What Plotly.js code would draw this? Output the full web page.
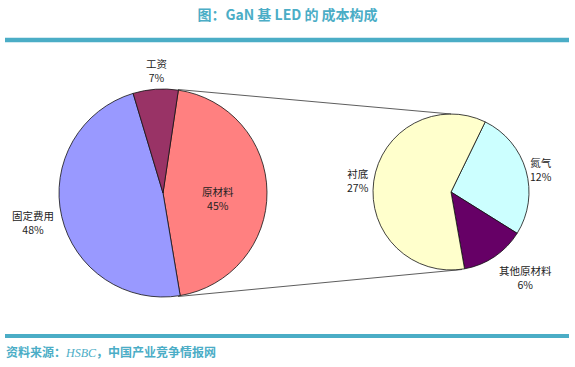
<!DOCTYPE html>
<html>
<head>
<meta charset="utf-8">
<script src="https://cdn.plot.ly/plotly-3.0.1.min.js"></script>
<style>html,body{margin:0;padding:0;background:#fff;}#chart{width:575px;height:367px;}</style>
</head>
<body>
<div id="chart"></div>
<script>
// ---- data ----
const mainLabels = ["原材料", "固定费用", "工资"];
const mainValues = [45, 48, 7];
const mainColors = ["#FF8080", "#9999FF", "#993366"];

const subLabels = ["氮气", "其他原材料", "衬底"];
const subValues = [12, 6, 27];
const subColors = ["#CCFFFF", "#660066", "#FFFFCC"];

const titleText = "图：GaN 基 LED 的 成本构成";
const sourceText = "资料来源：<i><span style='font-family:Liberation Serif;font-weight:normal'>HSBC</span></i>，中国产业竞争情报网";

// ---- layout helpers ----
const W = 575, H = 367;
const px = x => x / W;
const py = y => 1 - y / H;
const teal = "#4BADC6";

const mainLabelPos = [[218, 198], [33, 222], [156, 70]];
const subLabelPos = [[541, 169], [525, 277], [358, 180]];

const annotations = [];
mainLabels.forEach((l, i) => {
  annotations.push({
    x: px(mainLabelPos[i][0]), y: py(mainLabelPos[i][1]), xref: "paper", yref: "paper",
    text: l + "<br>" + mainValues[i] + "%", showarrow: false, xanchor: "center", yanchor: "middle",
    font: {family: "Noto Sans CJK SC, sans-serif", size: 10.5, color: "#222"}
  });
});
subLabels.forEach((l, i) => {
  annotations.push({
    x: px(subLabelPos[i][0]), y: py(subLabelPos[i][1]), xref: "paper", yref: "paper",
    text: l + "<br>" + subValues[i] + "%", showarrow: false, xanchor: "center", yanchor: "middle",
    font: {family: "Noto Sans CJK SC, sans-serif", size: 10.5, color: "#222"}
  });
});
annotations.push({
  x: px(4), y: py(351), xref: "paper", yref: "paper", xanchor: "left", yanchor: "middle",
  text: "<b>" + sourceText + "</b>", showarrow: false,
  font: {family: "Noto Sans CJK SC, sans-serif", size: 12, color: teal}
});

const data = [
  {
    type: "pie", labels: mainLabels, values: mainValues, sort: false, direction: "clockwise",
    rotation: 8.5, textinfo: "none", hoverinfo: "skip",
    marker: {colors: mainColors, line: {color: "#111", width: 0.8}},
    domain: {x: [px(59), px(267)], y: [py(297), py(89)]}
  },
  {
    type: "pie", labels: subLabels, values: subValues, sort: false, direction: "clockwise",
    rotation: 26, textinfo: "none", hoverinfo: "skip",
    marker: {colors: subColors, line: {color: "#111", width: 0.8}},
    domain: {x: [px(373), px(529)], y: [py(270), py(114)]}
  }
];

const layout = {
  width: W, height: H, margin: {l: 0, r: 0, t: 0, b: 0},
  paper_bgcolor: "#fff", plot_bgcolor: "#fff", showlegend: false,
  title: {text: "<b>" + titleText + "</b>", x: 0.5, xanchor: "center", y: py(15), yanchor: "middle",
          font: {family: "Noto Sans CJK SC, sans-serif", size: 14, color: teal}},
  shapes: [
    {type: "line", xref: "paper", yref: "paper", x0: px(5), x1: px(569), y0: py(40), y1: py(40), line: {color: teal, width: 4.5}},
    {type: "line", xref: "paper", yref: "paper", x0: px(5), x1: px(569), y0: py(336), y1: py(336), line: {color: teal, width: 4}},
    {type: "line", xref: "paper", yref: "paper", x0: px(178), x1: px(451), y0: py(89.5), y1: py(114), line: {color: "#333", width: 0.8}},
    {type: "line", xref: "paper", yref: "paper", x0: px(178), x1: px(462), y0: py(296.5), y1: py(269.5), line: {color: "#333", width: 0.8}}
  ],
  annotations: annotations
};

Plotly.newPlot("chart", data, layout, {staticPlot: true, displayModeBar: false});
</script>
</body>
</html>
